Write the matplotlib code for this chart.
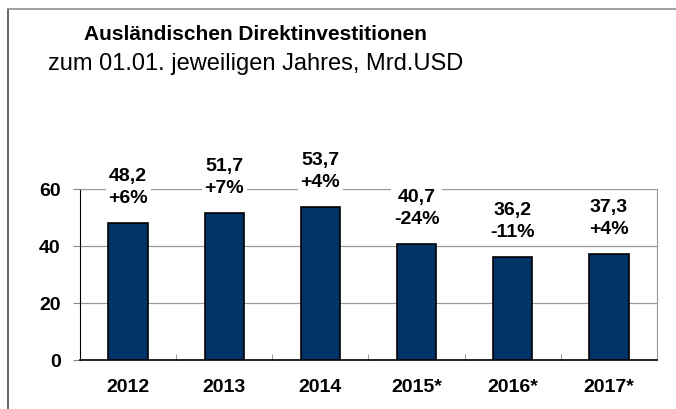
import matplotlib.pyplot as plt
from matplotlib.lines import Line2D

plt.rcParams['font.family'] = ['Liberation Sans', 'DejaVu Sans']

years = ["2012", "2013", "2014", "2015*", "2016*", "2017*"]
values = [48.2, 51.7, 53.7, 40.7, 36.2, 37.3]
values_txt = ["48,2", "51,7", "53,7", "40,7", "36,2", "37,3"]
changes = ["+6%", "+7%", "+4%", "-24%", "-11%", "+4%"]

fig = plt.figure(figsize=(6.76, 4.10), dpi=100)
W, H = 676, 410

# outer frame (left and top lines)
fig.add_artist(Line2D([8 / W, 8 / W], [0, 1 - 10 / H], color="#555555", lw=1.3))
fig.add_artist(Line2D([8 / W, 1], [1 - 10 / H, 1 - 10 / H], color="#999999", lw=1.3))

ax = fig.add_axes([80 / W, 1 - 361 / H, 577 / W, 171 / H])
x = list(range(len(years)))
ax.bar(x, values, width=0.41, color="#003366", edgecolor="black", lw=1.2, zorder=3)

ax.set_xlim(-0.5, len(years) - 0.5)
ax.set_ylim(0, 60)
ax.set_yticks([0, 20, 40, 60])
ax.yaxis.grid(True, color="#999999", lw=0.9, zorder=0)
ax.set_xticks(x)
ax.set_xticklabels(years, fontsize=14, fontweight="bold")
ax.set_xticks([i + 0.5 for i in x[:-1]], minor=True)
ax.tick_params(axis="x", which="major", length=0, pad=13)
ax.tick_params(axis="x", which="minor", direction="in", length=4, color="#888888")
ax.tick_params(axis="y", length=5, color="#888888", pad=9)
for lab in ax.get_yticklabels():
    lab.set_fontsize(14)
    lab.set_fontweight("bold")

ax.spines["top"].set_color("#999999")
ax.spines["right"].set_color("#999999")
ax.spines["left"].set_color("black")
ax.spines["bottom"].set_color("black")
ax.spines["bottom"].set_linewidth(1.2)

for i, v in enumerate(values):
    ax.annotate(values_txt[i] + "\n" + changes[i], (i, v), xytext=(0, 12),
                textcoords="offset points", ha="center", va="bottom",
                fontsize=14, fontweight="bold", linespacing=1.4,
                bbox=dict(facecolor="white", edgecolor="none", pad=2),
                annotation_clip=False, zorder=5)

fig.text(255 / W, 1 - 35 / H, "Ausländischen Direktinvestitionen", ha="center", va="center",
         fontsize=15, fontweight="bold")
fig.text(256 / W, 1 - 64 / H, "zum 01.01. jeweiligen Jahres, Mrd.USD", ha="center", va="center",
         fontsize=17)

fig.savefig("out.png", dpi=100)
